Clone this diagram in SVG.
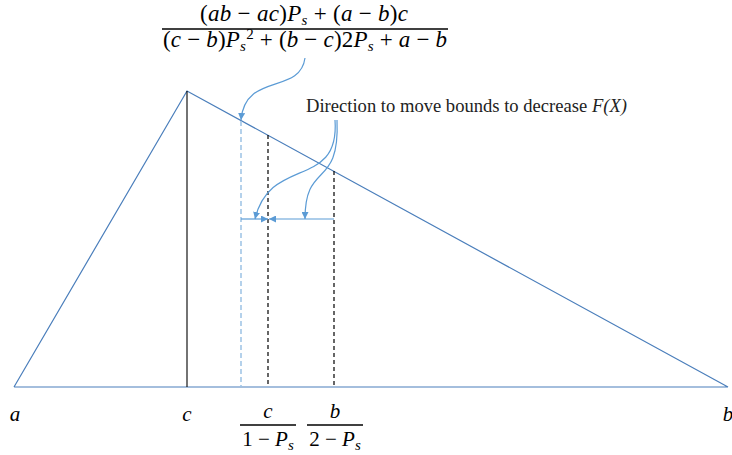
<svg xmlns="http://www.w3.org/2000/svg" width="732" height="455" viewBox="0 0 732 455">
<style>
.tri{fill:none;stroke:#4a7ebb;stroke-width:1.2}
.blk{stroke:#000;stroke-width:1.1}
.dash{stroke:#000;stroke-width:1.2;stroke-dasharray:4 3}
.ldash{stroke:#9cc2e5;stroke-width:1.5;stroke-dasharray:5 3}
.arr{fill:none;stroke:#5b9bd5;stroke-width:1.2}
.m{font-family:"Liberation Serif","DejaVu Serif",serif;font-size:21px;fill:#000}
.f{font-size:23px}
.i{font-style:italic}
.t{font-family:"Liberation Serif","Times New Roman",serif;font-size:18.5px;fill:#222}
.bar{stroke:#000;stroke-width:1.6}
</style>
<defs>
<marker id="ah" viewBox="0 0 10 10" refX="10" refY="5" markerWidth="7" markerHeight="7" orient="auto" markerUnits="userSpaceOnUse">
<path d="M0,0 L10,5 L0,10 z" fill="#5b9bd5"/>
</marker>
</defs>
<g id="triangle">
<polyline class="tri" points="14,387 187,91 728,387 14,387"/>
<line class="blk" x1="187" y1="91" x2="187" y2="387"/>
</g>
<g id="bounds">
<line class="ldash" x1="241" y1="121" x2="241" y2="387"/>
<line class="dash" x1="268" y1="135" x2="268" y2="387"/>
<line class="dash" x1="334" y1="171" x2="334" y2="387"/>
</g>
<g id="connectors">
<path class="arr" d="M305,58 C300,95 245,72 241,120" marker-end="url(#ah)"/>
<path class="arr" d="M335,120 C340,190 270,155 255,219" marker-end="url(#ah)"/>
<path class="arr" d="M337,120 C340,190 305,160 305,219" marker-end="url(#ah)"/>
<line class="arr" x1="241" y1="219" x2="268" y2="219" marker-end="url(#ah)"/>
<line class="arr" x1="334" y1="219" x2="269" y2="219" marker-end="url(#ah)"/>
</g>
<g id="formula">
<text class="m f" x="200" y="21" textLength="208" lengthAdjust="spacing">(<tspan class="i">ab</tspan> − <tspan class="i">ac</tspan>)<tspan class="i">P<tspan font-size="15" dy="4">s</tspan></tspan><tspan dy="-4"> + (</tspan><tspan class="i">a</tspan> − <tspan class="i">b</tspan>)<tspan class="i">c</tspan></text>
<line class="bar" x1="162" y1="29" x2="448" y2="29"/>
<text class="m f" x="163" y="47" textLength="284" lengthAdjust="spacing">(<tspan class="i">c</tspan> − <tspan class="i">b</tspan>)<tspan class="i">P<tspan font-size="15" dy="4">s</tspan></tspan><tspan font-size="15" dy="-12">2</tspan><tspan dy="8"> + (</tspan><tspan class="i">b</tspan> − <tspan class="i">c</tspan>)2<tspan class="i">P<tspan font-size="15" dy="4">s</tspan></tspan><tspan dy="-4"> + </tspan><tspan class="i">a</tspan> − <tspan class="i">b</tspan></text>
</g>
<g id="direction-label">
<text class="t" x="306" y="112" textLength="321" lengthAdjust="spacingAndGlyphs">Direction to move bounds to decrease <tspan font-style="italic">F(X)</tspan></text>
</g>
<g id="axis-labels">
<text class="m i" x="15" y="421" text-anchor="middle">a</text>
<text class="m i" x="187" y="421" text-anchor="middle">c</text>
<text class="m i" x="728" y="421" text-anchor="middle">b</text>
<text class="m i" x="268" y="418" text-anchor="middle">c</text>
<line class="bar" x1="240" y1="425" x2="296" y2="425"/>
<text class="m" x="268" y="446" text-anchor="middle">1 − <tspan class="i">P<tspan font-size="15" dy="4">s</tspan></tspan></text>
<text class="m i" x="335" y="418" text-anchor="middle">b</text>
<line class="bar" x1="307" y1="425" x2="363" y2="425"/>
<text class="m" x="335" y="446" text-anchor="middle">2 − <tspan class="i">P<tspan font-size="15" dy="4">s</tspan></tspan></text>
</g>
</svg>
